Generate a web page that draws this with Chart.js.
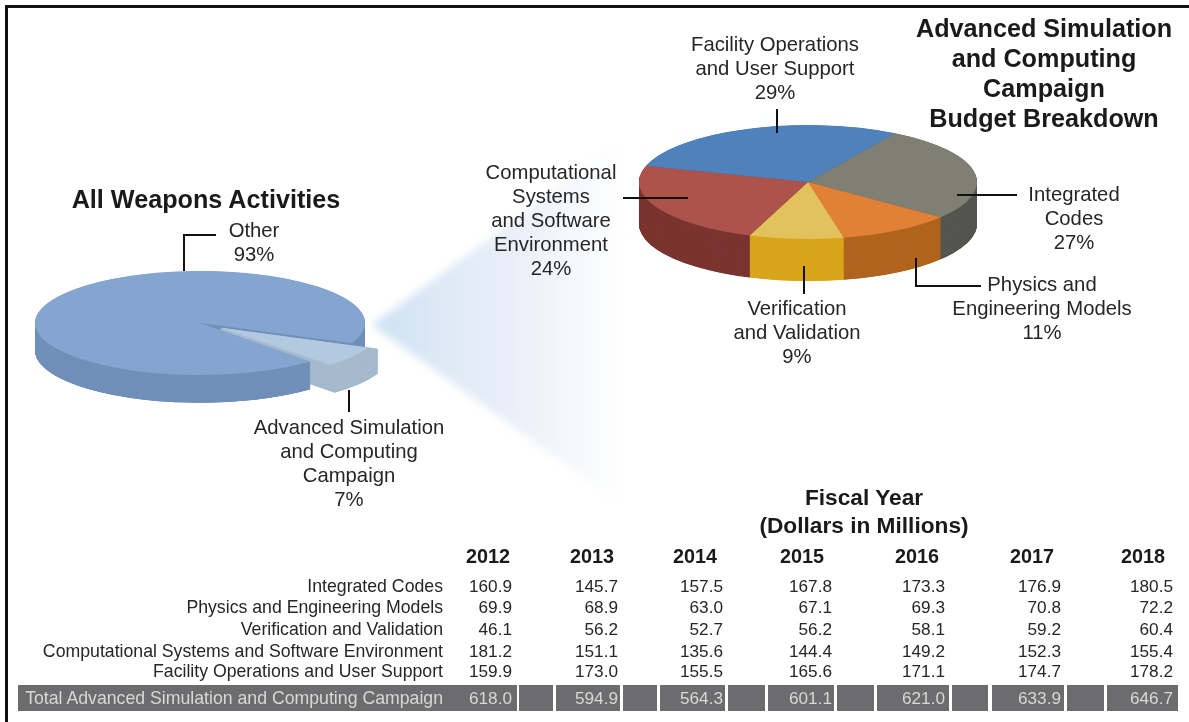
<!DOCTYPE html>
<html lang="en">
  <head>
    <meta charset="utf-8" />
    <title>Advanced Simulation and Computing Campaign Budget Breakdown</title>
    <style>
      * {
        margin: 0;
        padding: 0;
      }
      body {
        width: 1189px;
        height: 722px;
        overflow: hidden;
        position: relative;
        background: #fff;
        font-family: "Liberation Sans", Arial, sans-serif;
        color: #262626;
        filter: blur(0.45px);
      }
      canvas,
      svg,
      .frame,
      .txt,
      .cell {
        position: absolute;
      }
      .frame {
        background: #111;
      }
      .txt {
        white-space: nowrap;
        line-height: 24px;
        font-size: 20.3px;
      }
      .mid {
        transform: translateX(-50%);
        text-align: center;
      }
      .bold {
        font-weight: bold;
        color: #1a1a1a;
      }
      .cell {
        top: 685px;
        height: 26px;
        background: #6c6c6e;
      }
    </style>
  </head>
  <body>
    <div class="frame" style="left: 5px; top: 5px; width: 1184px; height: 3px"></div>
    <div class="frame" style="left: 5px; top: 5px; width: 3px; height: 717px"></div>

    <svg width="1189" height="722" style="left: 0; top: 0">
      <defs>
        <linearGradient id="fade" gradientUnits="userSpaceOnUse" x1="372" y1="0" x2="625" y2="0">
          <stop offset="0" stop-color="#cde1f3" />
          <stop offset="0.3" stop-color="#dfeaf6" />
          <stop offset="0.55" stop-color="#e9eff8" />
          <stop offset="0.85" stop-color="#f8fafd" />
          <stop offset="1" stop-color="#ffffff" />
        </linearGradient>
      </defs>
      <polygon points="372,325 640,128 640,518" fill="url(#fade)" style="filter: blur(4px)" />
    </svg>

    <canvas id="weaponsPie" width="400" height="400" style="left: 0px; top: 123px"></canvas>
    <canvas id="budgetPie" width="400" height="400" style="left: 608px; top: -18px"></canvas>

    <svg width="1189" height="722" style="left: 0; top: 0">
      <g id="leaders" fill="none" stroke="#111" stroke-width="2"></g>
    </svg>

    <div id="labels"></div>
    <div id="table"></div>

    <script src="https://cdn.jsdelivr.net/npm/chart.js"></script>

    <script>
      // pie shares
      const weaponsLabels = ["Other", "Advanced Simulation\nand Computing\nCampaign"];
      const weaponsShares = [93, 7];
      const budgetLabels = [
        "Integrated\nCodes",
        "Physics and\nEngineering Models",
        "Verification\nand Validation",
        "Computational\nSystems\nand Software\nEnvironment",
        "Facility Operations\nand User Support",
      ];
      const budgetShares = [27, 11, 9, 24, 29];

      // table
      const years = ["2012", "2013", "2014", "2015", "2016", "2017", "2018"];
      const rowNames = [
        "Integrated Codes",
        "Physics and Engineering Models",
        "Verification and Validation",
        "Computational Systems and Software Environment",
        "Facility Operations and User Support",
      ];
      const integratedCodes = ["160.9", "145.7", "157.5", "167.8", "173.3", "176.9", "180.5"];
      const physicsModels = ["69.9", "68.9", "63.0", "67.1", "69.3", "70.8", "72.2"];
      const verification = ["46.1", "56.2", "52.7", "56.2", "58.1", "59.2", "60.4"];
      const computational = ["181.2", "151.1", "135.6", "144.4", "149.2", "152.3", "155.4"];
      const facilityOps = ["159.9", "173.0", "155.5", "165.6", "171.1", "174.7", "178.2"];
      const totalName = "Total Advanced Simulation and Computing Campaign";
      const totals = ["618.0", "594.9", "564.3", "601.1", "621.0", "633.9", "646.7"];

      // draws the side walls and flattens the pie into an ellipse
      const pieDepth = {
        id: "pieDepth",
        beforeDatasetsDraw(chart, args, opts) {
          const ctx = chart.ctx;
          const arcs = chart.getDatasetMeta(0).data;
          ctx.save();
          ctx.translate(arcs[0].x, arcs[0].y);
          ctx.scale(1, opts.squash);
          ctx.translate(-arcs[0].x, -arcs[0].y);

          // arc.draw grows an offset slice by offset/4, take that back
          arcs.forEach((arc, i) => {
            arc.outerRadius = opts.radii[i] - (arc.options.offset || 0) / 4;
          });

          const extrude = (arc, from, to, i) => {
            const off = (arc.options.offset || 0) / 4;
            const half = (arc.startAngle + arc.endAngle) / 2;
            const x = arc.x + Math.cos(half) * off;
            const y = arc.y + Math.sin(half) * off;
            ctx.fillStyle = opts.sideColors[i];
            for (let d = opts.depths[i]; d > 0; d--) {
              ctx.beginPath();
              ctx.moveTo(x, y + d);
              ctx.arc(x, y + d, opts.radii[i], from, to);
              ctx.closePath();
              ctx.fill();
            }
          };

          // back to front
          const midSin = (a) => Math.sin((a.startAngle + a.endAngle) / 2);
          arcs
            .map((arc, i) => ({ arc, i }))
            .sort((p, q) => midSin(p.arc) - midSin(q.arc))
            .forEach(({ arc, i }) => {
              extrude(arc, arc.startAngle, arc.endAngle, i);
            });
          // the big slice sits in front of the pulled out slice's cut face
          if (opts.frontSpan) {
            extrude(arcs[0], arcs[0].startAngle, arcs[0].startAngle + opts.frontSpan, 0);
          }
        },
        afterDatasetsDraw(chart) {
          chart.ctx.restore();
        },
      };

      function makePie(id, labels, shares, colors, offsets, rotation, depthOpts) {
        return new Chart(document.getElementById(id), {
          type: "pie",
          data: {
            labels: labels,
            datasets: [
              {
                data: shares,
                backgroundColor: colors,
                borderWidth: 0,
                offset: offsets,
                clip: false,
              },
            ],
          },
          options: {
            responsive: false,
            animation: false,
            events: [],
            rotation: rotation,
            radius: depthOpts.radii[0],
            plugins: {
              legend: { display: false },
              tooltip: { enabled: false },
              pieDepth: depthOpts,
            },
          },
          plugins: [pieDepth],
        });
      }

      makePie("weaponsPie", weaponsLabels, weaponsShares, ["#84a5cf", "#b2c9e0"], [0, 96], 138, {
        radii: [165, 172],
        squash: 0.315,
        depths: [88, 80],
        sideColors: ["#7190b9", "#a6bacd"],
        frontSpan: Math.PI * 0.75,
      });

      makePie(
        "budgetPie",
        budgetLabels,
        budgetShares,
        ["#7f7f73", "#e08136", "#e2c25c", "#ac534c", "#4f81bd"],
        [0, 0, 0, 0, 0],
        31,
        {
          radii: [169, 169, 169, 169, 169],
          squash: 0.337,
          depths: [125, 125, 125, 125, 125],
          sideColors: ["#55574f", "#b0651f", "#d9a51c", "#7b3531", "#3f6a9c"],
        }
      );

      // text placement
      function addText(parent, text, x, y, cls, style) {
        const el = document.createElement("div");
        el.className = "txt " + cls;
        el.style.left = x + "px";
        el.style.top = y + "px";
        el.style.cssText += style || "";
        el.innerText = text;
        parent.appendChild(el);
        return el;
      }

      const labelBox = document.getElementById("labels");
      const pct = (v) => "\n" + v + "%";
      addText(labelBox, weaponsLabels[0] + pct(weaponsShares[0]), 254, 218, "mid");
      addText(labelBox, weaponsLabels[1] + pct(weaponsShares[1]), 349, 415, "mid");
      addText(labelBox, budgetLabels[0] + pct(budgetShares[0]), 1074, 182, "mid");
      addText(labelBox, budgetLabels[1] + pct(budgetShares[1]), 1042, 272, "mid");
      addText(labelBox, budgetLabels[2] + pct(budgetShares[2]), 797, 296, "mid");
      addText(labelBox, budgetLabels[3] + pct(budgetShares[3]), 551, 160, "mid");
      addText(labelBox, budgetLabels[4] + pct(budgetShares[4]), 775, 32, "mid");

      addText(labelBox, "All Weapons Activities", 206, 187, "mid bold", "font-size:25.2px");
      addText(
        labelBox,
        "Advanced Simulation\nand Computing\nCampaign\nBudget Breakdown",
        1044,
        13,
        "mid bold",
        "font-size:25.2px;line-height:30px"
      );
      addText(labelBox, "Fiscal Year\n(Dollars in Millions)", 864, 483, "mid bold", "font-size:22.7px;line-height:28px");

      // leader lines
      const leaderPaths = [
        "M184 271V235H216",
        "M349 390V412",
        "M777 109V133",
        "M623 198H688",
        "M957 195H1017",
        "M916 258V286H981",
        "M804 266V294",
      ];
      leaderPaths.forEach((d) => {
        const p = document.createElementNS("http://www.w3.org/2000/svg", "path");
        p.setAttribute("d", d);
        document.getElementById("leaders").appendChild(p);
      });

      // table layout
      const table = document.getElementById("table");
      const yearCenters = [488, 592, 695, 802, 917, 1032, 1143];
      const valueRights = [512, 618, 723, 832, 945, 1061, 1173];
      const rowTops = [574, 595, 617, 639, 659];
      const cellSpans = [
        [18, 517], [519, 553], [556, 620], [623, 657], [660, 725], [728, 765], [768, 834],
        [837, 874], [877, 949], [952, 988], [992, 1064], [1067, 1104], [1107, 1178],
      ];
      const rows = [integratedCodes, physicsModels, verification, computational, facilityOps];

      cellSpans.forEach((s) => {
        const c = document.createElement("div");
        c.className = "cell";
        c.style.left = s[0] + "px";
        c.style.width = s[1] - s[0] + "px";
        table.appendChild(c);
      });

      years.forEach((y, i) => {
        addText(table, y, yearCenters[i], 544, "mid bold", "font-size:19.8px");
      });
      const rightAt = (x) => "left:auto;right:" + (1189 - x) + "px;";
      rows.forEach((row, r) => {
        addText(table, rowNames[r], 0, rowTops[r], "", rightAt(443) + "font-size:17.7px");
        row.forEach((v, i) => {
          addText(table, v, 0, rowTops[r], "", rightAt(valueRights[i]) + "font-size:17.2px");
        });
      });
      addText(table, totalName, 0, 686, "", rightAt(443) + "font-size:17.7px;color:#d8d8d8");
      totals.forEach((v, i) => {
        addText(table, v, 0, 686, "", rightAt(valueRights[i]) + "font-size:17.2px;color:#d8d8d8");
      });
    </script>
  </body>
</html>
